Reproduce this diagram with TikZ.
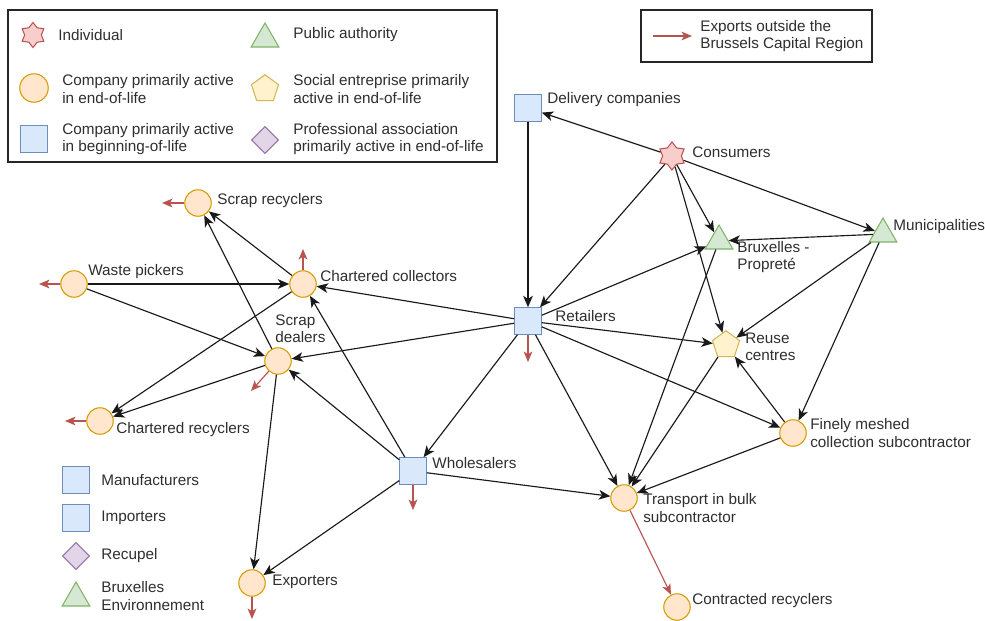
\documentclass[tikz,border=0pt]{standalone}
\usepackage{fontspec}
\setmainfont{Liberation Sans}
\usepackage{xcolor}
\usetikzlibrary{arrows.meta, shapes.geometric}

\definecolor{orgfill}{HTML}{FFE6CC} \definecolor{orgdraw}{HTML}{D79B00}
\definecolor{bluefill}{HTML}{DAE8FC} \definecolor{bluedraw}{HTML}{6C8EBF}
\definecolor{grnfill}{HTML}{D5E8D4} \definecolor{grndraw}{HTML}{82B366}
\definecolor{ylwfill}{HTML}{FFF2CC} \definecolor{ylwdraw}{HTML}{D6B656}
\definecolor{redfill}{HTML}{F8CECC} \definecolor{reddraw}{HTML}{B85450}
\definecolor{purfill}{HTML}{E1D5E7} \definecolor{purdraw}{HTML}{9673A6}

\begin{document}
\begin{tikzpicture}[x=0.02cm, y=-0.02cm,
    comp/.style={circle, draw=orgdraw, fill=orgfill, minimum size=0.53cm,
                 inner sep=0pt, line width=0.6pt},
    firm/.style={rectangle, draw=bluedraw, fill=bluefill, minimum size=0.53cm,
                 inner sep=0pt, line width=0.6pt},
    auth/.style={regular polygon, regular polygon sides=3, draw=grndraw, fill=grnfill,
                 minimum size=0.64cm, inner sep=0pt, line width=0.6pt},
    social/.style={regular polygon, regular polygon sides=5, draw=ylwdraw, fill=ylwfill,
                 minimum size=0.57cm, inner sep=0pt, line width=0.6pt},
    indiv/.style={star, star points=6, star point ratio=1.5, draw=reddraw, fill=redfill,
                 minimum size=0.56cm, inner sep=0pt, line width=0.6pt},
    assoc/.style={diamond, draw=purdraw, fill=purfill, minimum size=0.54cm,
                 inner sep=0pt, line width=0.6pt},
    arr/.style={-{Stealth[length=6.5pt, width=5.5pt, inset=1.8pt]}, line width=0.65pt, black!90},
    expo/.style={-{Stealth[length=6pt, width=5pt, inset=1.6pt]}, line width=0.65pt, reddraw},
    lbl/.style={font=\fontsize{8.7}{9.9}\selectfont, text=black!82, align=left,
                anchor=west, inner sep=0pt},
    box/.style={draw=black!85, line width=0.8pt}]

    \useasboundingbox (0,0) rectangle (985,620);

    % legend of actor types
    \draw[box] (8,10) rectangle (497,162);
    \node[indiv, minimum size=0.5cm] (lgind) at (33,35) {};
    \node[lbl] (lgindl) at (58,35) {Individual};
    \node[auth] (lgauth) at (265,39) {};
    \node[lbl] (lgauthl) at (293,35) {Public authority};
    \node[comp, minimum size=0.57cm] (lgcomp) at (34,88) {};
    \node[lbl] (lgcompl) at (62,89) {Company primarily active\\in end-of-life};
    \node[social] (lgsoc) at (265,89) {};
    \node[lbl] (lgsocl) at (293,89) {Social entreprise primarily\\active in end-of-life};
    \node[firm] (lgfirm) at (34,139) {};
    \node[lbl] (lgfirml) at (62,139) {Company primarily active\\in beginning-of-life};
    \node[assoc] (lgassoc) at (265,140) {};
    \node[lbl] (lgassocl) at (293,139) {Professional association\\primarily active in end-of-life};

    % legend of exports
    \draw[box] (641,10) rectangle (872,62);
    \coordinate (lgexpa) at (653,36);
    \coordinate (lgexpb) at (692,36);
    \draw[expo] (lgexpa) -- (lgexpb);
    \node[lbl] (lgexpl) at (700,36) {Exports outside the\\Brussels Capital Region};

    % actors not connected
    \node[firm] (lgman) at (76,480) {};
    \node[lbl] (lgmanl) at (101,480) {Manufacturers};
    \node[firm] (lgimp) at (76,518) {};
    \node[lbl] (lgimpl) at (101,518) {Importers};
    \node[assoc] (lgrec) at (76,556) {};
    \node[lbl] (lgrecl) at (101,556) {Recupel};
    \node[auth] (lgbe) at (76,598) {};
    \node[lbl] (lgbel) at (101,596) {Bruxelles\\Environnement};

    % actors
    \node[firm] (dlv) at (528,108) {};
    \node[indiv] (cons) at (672,156) {};
    \node[auth] (bxp) at (719,241) {};
    \node[auth] (mun) at (883,234) {};
    \node[firm] (ret) at (528,321) {};
    \node[social] (reuse) at (726,345) {};
    \node[comp] (fine) at (793,433) {};
    \node[comp] (trans) at (624,498) {};
    \node[comp] (contr) at (677,607) {};
    \node[firm] (whs) at (413,471) {};
    \node[comp] (expt) at (252,583) {};
    \node[comp] (scrrec) at (198,203) {};
    \node[comp] (waste) at (74,284) {};
    \node[comp] (charcol) at (303,284) {};
    \node[comp] (dealer) at (278,361) {};
    \node[comp] (charrec) at (100,421) {};

    \node[lbl] (dlvl) at (547,100) {Delivery companies};
    \node[lbl] (consl) at (692,152) {Consumers};
    \node[lbl] (bxpl) at (737,257) {Bruxelles -\\Propreté};
    \node[lbl] (munl) at (893,227) {Municipalities};
    \node[lbl] (retl) at (555,316) {Retailers};
    \node[lbl] (reusel) at (745,347) {Reuse\\centres};
    \node[lbl] (finel) at (810,433) {Finely meshed\\collection subcontractor};
    \node[lbl] (transl) at (643,508) {Transport in bulk\\subcontractor};
    \node[lbl] (contrl) at (692,601) {Contracted recyclers};
    \node[lbl] (whsl) at (432,463) {Wholesalers};
    \node[lbl] (exptl) at (272,582) {Exporters};
    \node[lbl] (scrrecl) at (217,201) {Scrap recyclers};
    \node[lbl] (wastel) at (88,272) {Waste pickers};
    \node[lbl] (charcoll) at (320,276) {Chartered collectors};
    \node[lbl] (dealerl) at (275,329) {Scrap\\dealers};
    \node[lbl] (charrecl) at (116,430) {Chartered recyclers};

    % flows
    \draw[arr] (cons)--(dlv); \draw[arr] (dlv)--(ret);
    \draw[arr] (cons)--(ret); \draw[arr] (cons)--(bxp);
    \draw[arr] (cons)--(reuse); \draw[arr] (cons)--(mun);
    \draw[arr] (mun)--(bxp); \draw[arr] (mun)--(reuse);
    \draw[arr] (mun)--(fine);
    \draw[arr] (ret)--(bxp); \draw[arr] (ret)--(reuse);
    \draw[arr] (ret)--(fine); \draw[arr] (ret)--(trans);
    \draw[arr] (ret)--(charcol); \draw[arr] (ret)--(dealer);
    \draw[arr] (ret)--(whs);
    \draw[arr] (bxp)--(trans); \draw[arr] (reuse)--(trans);
    \draw[arr] (fine)--(reuse); \draw[arr] (fine)--(trans);
    \draw[arr] (whs)--(trans); \draw[arr] (whs)--(dealer);
    \draw[arr] (whs)--(charcol); \draw[arr] (whs)--(expt);
    \draw[arr] (dealer)--(expt); \draw[arr] (dealer)--(scrrec);
    \draw[arr] (charcol)--(scrrec);
    \draw[arr] (waste)--(charcol); \draw[arr] (waste)--(dealer);
    \draw[arr] (charcol)--(charrec); \draw[arr] (dealer)--(charrec);

    % exports
    \coordinate (xscr) at (162,203);
    \coordinate (xwst) at (39,284);
    \coordinate (xcol) at (303,249);
    \coordinate (xdlr) at (251,391);
    \coordinate (xcrr) at (65,421);
    \coordinate (xret) at (528,362);
    \coordinate (xwhs) at (413,510);
    \coordinate (xexp) at (252,619);
    \draw[expo] (scrrec)--(xscr); \draw[expo] (waste)--(xwst);
    \draw[expo] (charcol)--(xcol); \draw[expo] (dealer)--(xdlr);
    \draw[expo] (charrec)--(xcrr); \draw[expo] (ret)--(xret);
    \draw[expo] (whs)--(xwhs); \draw[expo] (expt)--(xexp);
    \draw[expo] (trans)--(contr);
  \end{tikzpicture}
\end{document}
